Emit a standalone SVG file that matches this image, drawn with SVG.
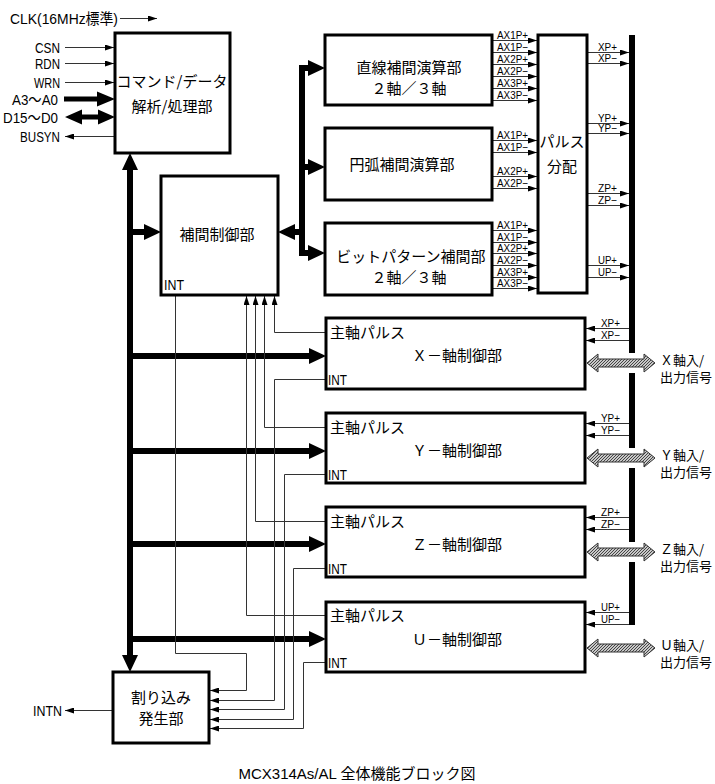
<svg xmlns="http://www.w3.org/2000/svg" width="715" height="784" viewBox="0 0 715 784">
<style>
.box{fill:#fff;stroke:#000;stroke-width:3}
.thin{fill:none;stroke:#333;stroke-width:1}
.thick{fill:#000}
.jp{font-family:"Noto Sans CJK JP","Noto Sans",sans-serif;font-size:15px;fill:#000}
.jps{font-family:"Noto Sans CJK JP","Noto Sans",sans-serif;font-size:13px;fill:#000}
.lat{font-family:"Liberation Sans","Noto Sans CJK JP",sans-serif;font-size:15px;fill:#000}
.sig{font-family:"Liberation Sans",sans-serif;font-size:11px;fill:#000}
.cap{font-family:"Liberation Sans","Noto Sans CJK JP",sans-serif;font-size:15px;fill:#000}
.bid{fill:url(#hatch);stroke:#333;stroke-width:1}
</style>
<defs>
<marker id="a" viewBox="0 0 9 6" refX="9" refY="3" markerWidth="9" markerHeight="6" markerUnits="userSpaceOnUse" orient="auto"><path d="M0,0L9,3L0,6z" fill="#000"/></marker>
<pattern id="hatch" width="3" height="3" patternUnits="userSpaceOnUse"><rect width="3" height="3" fill="#c8c8c8"/><path d="M0,3L3,0" stroke="#444" stroke-width="1"/></pattern>
</defs>

<g id="connectors">
<line class="thin" x1="120" y1="18.5" x2="157" y2="18.5" marker-end="url(#a)"/>
<line class="thin" x1="65" y1="47.5" x2="114" y2="47.5" marker-end="url(#a)"/>
<line class="thin" x1="65" y1="63.5" x2="114" y2="63.5" marker-end="url(#a)"/>
<line class="thin" x1="65" y1="82.5" x2="114" y2="82.5" marker-end="url(#a)"/>
<path class="thick" d="M64,96.5H97V91.5L115,99L97,106.5V101.5H64Z"/>
<path class="thick" d="M65,117L82,109.5V114.5H98V109.5L115,117L98,124.5V119.5H82V124.5Z"/>
<line class="thin" x1="114" y1="136.5" x2="65" y2="136.5" marker-end="url(#a)"/>
<path class="thick" d="M130,153L138,170H133V655H138L130,672L122,655H127V170H122Z"/>
<path class="thick" d="M130,229H144V224L161,232L144,240V235H130Z"/>
<path class="thick" d="M130,353H309V348L326,356L309,364V359H130Z"/>
<path class="thick" d="M130,448H309V443L326,451L309,459V454H130Z"/>
<path class="thick" d="M130,541H309V536L326,544L309,552V547H130Z"/>
<path class="thick" d="M130,636H309V631L326,639L309,647V642H130Z"/>
<path class="thick" d="M278,232L295,224V229H299V65H308V60L325,68L308,76V71H305V164H308V159L325,167L308,175V170H305V250H308V245L325,253L308,261V256H299V235H295V240Z"/>
<g>
<line class="thin" x1="492" y1="40.5" x2="537" y2="40.5" marker-end="url(#a)"/>
<line class="thin" x1="492" y1="52.5" x2="537" y2="52.5" marker-end="url(#a)"/>
<line class="thin" x1="492" y1="64.5" x2="537" y2="64.5" marker-end="url(#a)"/>
<line class="thin" x1="492" y1="76.5" x2="537" y2="76.5" marker-end="url(#a)"/>
<line class="thin" x1="492" y1="88.5" x2="537" y2="88.5" marker-end="url(#a)"/>
<line class="thin" x1="492" y1="100.5" x2="537" y2="100.5" marker-end="url(#a)"/>
<line class="thin" x1="492" y1="140.5" x2="537" y2="140.5" marker-end="url(#a)"/>
<line class="thin" x1="492" y1="152.5" x2="537" y2="152.5" marker-end="url(#a)"/>
<line class="thin" x1="492" y1="176.5" x2="537" y2="176.5" marker-end="url(#a)"/>
<line class="thin" x1="492" y1="188.5" x2="537" y2="188.5" marker-end="url(#a)"/>
<line class="thin" x1="492" y1="230.5" x2="537" y2="230.5" marker-end="url(#a)"/>
<line class="thin" x1="492" y1="242.5" x2="537" y2="242.5" marker-end="url(#a)"/>
<line class="thin" x1="492" y1="253.5" x2="537" y2="253.5" marker-end="url(#a)"/>
<line class="thin" x1="492" y1="265.5" x2="537" y2="265.5" marker-end="url(#a)"/>
<line class="thin" x1="492" y1="277.5" x2="537" y2="277.5" marker-end="url(#a)"/>
<line class="thin" x1="492" y1="288.5" x2="537" y2="288.5" marker-end="url(#a)"/>
</g>
<g>
<line class="thin" x1="587" y1="52.5" x2="629" y2="52.5" marker-end="url(#a)"/>
<line class="thin" x1="587" y1="63.5" x2="629" y2="63.5" marker-end="url(#a)"/>
<line class="thin" x1="587" y1="123.5" x2="629" y2="123.5" marker-end="url(#a)"/>
<line class="thin" x1="587" y1="133.5" x2="629" y2="133.5" marker-end="url(#a)"/>
<line class="thin" x1="587" y1="193.5" x2="629" y2="193.5" marker-end="url(#a)"/>
<line class="thin" x1="587" y1="205.5" x2="629" y2="205.5" marker-end="url(#a)"/>
<line class="thin" x1="587" y1="265.5" x2="629" y2="265.5" marker-end="url(#a)"/>
<line class="thin" x1="587" y1="277.5" x2="629" y2="277.5" marker-end="url(#a)"/>
</g>
<path class="thick" d="M629,35H635V353H629ZM629,373H635V448H629ZM629,468H635V542H629ZM629,562H635V625H629Z"/>
<g>
<line class="thin" x1="629" y1="328.5" x2="586" y2="328.5" marker-end="url(#a)"/>
<line class="thin" x1="629" y1="340.5" x2="586" y2="340.5" marker-end="url(#a)"/>
<line class="thin" x1="629" y1="423.5" x2="586" y2="423.5" marker-end="url(#a)"/>
<line class="thin" x1="629" y1="435.5" x2="586" y2="435.5" marker-end="url(#a)"/>
<line class="thin" x1="629" y1="517.5" x2="586" y2="517.5" marker-end="url(#a)"/>
<line class="thin" x1="629" y1="529.5" x2="586" y2="529.5" marker-end="url(#a)"/>
<line class="thin" x1="629" y1="612.5" x2="586" y2="612.5" marker-end="url(#a)"/>
<line class="thin" x1="629" y1="624.5" x2="586" y2="624.5" marker-end="url(#a)"/>
</g>
<path class="bid" d="M587,363L598,354V359H644V354L655,363L644,372V367H598V372Z"/>
<path class="bid" d="M587,458L598,449V454H644V449L655,458L644,467V462H598V467Z"/>
<path class="bid" d="M587,552L598,543V548H644V543L655,552L644,561V556H598V561Z"/>
<path class="bid" d="M587,648L598,639V644H644V639L655,648L644,657V652H598V657Z"/>
<polyline class="thin" points="326,332.5 274.5,332.5 274.5,296" marker-end="url(#a)"/>
<polyline class="thin" points="326,427.5 264.5,427.5 264.5,296" marker-end="url(#a)"/>
<polyline class="thin" points="326,521.5 255.5,521.5 255.5,296" marker-end="url(#a)"/>
<polyline class="thin" points="326,615.5 246.5,615.5 246.5,296" marker-end="url(#a)"/>
<polyline class="thin" points="175.5,296 175.5,653.5 246.5,653.5 246.5,690.5 210,690.5" marker-end="url(#a)"/>
<polyline class="thin" points="326,379.5 274.5,379.5 274.5,700.5 210,700.5" marker-end="url(#a)"/>
<polyline class="thin" points="326,474.5 284.5,474.5 284.5,709.5 210,709.5" marker-end="url(#a)"/>
<polyline class="thin" points="326,568.5 293.5,568.5 293.5,719.5 210,719.5" marker-end="url(#a)"/>
<polyline class="thin" points="326,662.5 303.5,662.5 303.5,728.5 210,728.5" marker-end="url(#a)"/>
<line class="thin" x1="112" y1="710.5" x2="65" y2="710.5" marker-end="url(#a)"/>
</g>

<g id="labels-io">
<text class="lat" x="10" y="24" textLength="108" lengthAdjust="spacingAndGlyphs">CLK(16MHz標準)</text>
<text class="lat" x="60" y="53" text-anchor="end" textLength="25" lengthAdjust="spacingAndGlyphs">CSN</text>
<text class="lat" x="60" y="69" text-anchor="end" textLength="25" lengthAdjust="spacingAndGlyphs">RDN</text>
<text class="lat" x="60" y="88" text-anchor="end" textLength="26" lengthAdjust="spacingAndGlyphs">WRN</text>
<text class="lat" x="58" y="105" text-anchor="end" textLength="46" lengthAdjust="spacingAndGlyphs">A3～A0</text>
<text class="lat" x="58" y="123" text-anchor="end" textLength="55" lengthAdjust="spacingAndGlyphs">D15～D0</text>
<text class="lat" x="60" y="142" text-anchor="end" textLength="40" lengthAdjust="spacingAndGlyphs">BUSYN</text>
<text class="lat" x="62" y="716" text-anchor="end" textLength="29" lengthAdjust="spacingAndGlyphs">INTN</text>
</g>

<g id="cmd">
<rect class="box" x="115" y="33" width="115" height="120"/>
<text class="jp" x="172" y="87" text-anchor="middle">コマンド/データ</text>
<text class="jp" x="172" y="112" text-anchor="middle">解析/処理部</text>
</g>

<g id="interp-ctrl">
<rect class="box" x="161" y="176" width="117" height="119"/>
<text class="jp" x="217" y="240" text-anchor="middle">補間制御部</text>
<text class="lat" x="164" y="290" textLength="20" lengthAdjust="spacingAndGlyphs">INT</text>
</g>

<g id="linear">
<rect class="box" x="325" y="35" width="167" height="70"/>
<text class="jp" x="409" y="73" text-anchor="middle">直線補間演算部</text>
<text class="jp" x="409" y="94" text-anchor="middle">２軸／３軸</text>
</g>

<g id="circular">
<rect class="box" x="325" y="128" width="167" height="72"/>
<text class="jp" x="402" y="170" text-anchor="middle">円弧補間演算部</text>
</g>

<g id="bitpattern">
<rect class="box" x="325" y="223" width="167" height="72"/>
<text class="jp" x="411" y="262" text-anchor="middle">ビットパターン補間部</text>
<text class="jp" x="409" y="283" text-anchor="middle">２軸／３軸</text>
</g>

<g id="sig-labels">
<text class="sig" x="497" y="39" textLength="31" lengthAdjust="spacingAndGlyphs">AX1P+</text>
<text class="sig" x="497" y="51" textLength="31" lengthAdjust="spacingAndGlyphs">AX1P−</text>
<text class="sig" x="497" y="63" textLength="31" lengthAdjust="spacingAndGlyphs">AX2P+</text>
<text class="sig" x="497" y="75" textLength="31" lengthAdjust="spacingAndGlyphs">AX2P−</text>
<text class="sig" x="497" y="87" textLength="31" lengthAdjust="spacingAndGlyphs">AX3P+</text>
<text class="sig" x="497" y="99" textLength="31" lengthAdjust="spacingAndGlyphs">AX3P−</text>
<text class="sig" x="497" y="139" textLength="31" lengthAdjust="spacingAndGlyphs">AX1P+</text>
<text class="sig" x="497" y="151" textLength="31" lengthAdjust="spacingAndGlyphs">AX1P−</text>
<text class="sig" x="497" y="175" textLength="31" lengthAdjust="spacingAndGlyphs">AX2P+</text>
<text class="sig" x="497" y="187" textLength="31" lengthAdjust="spacingAndGlyphs">AX2P−</text>
<text class="sig" x="497" y="229" textLength="31" lengthAdjust="spacingAndGlyphs">AX1P+</text>
<text class="sig" x="497" y="241" textLength="31" lengthAdjust="spacingAndGlyphs">AX1P−</text>
<text class="sig" x="497" y="252" textLength="31" lengthAdjust="spacingAndGlyphs">AX2P+</text>
<text class="sig" x="497" y="264" textLength="31" lengthAdjust="spacingAndGlyphs">AX2P−</text>
<text class="sig" x="497" y="276" textLength="31" lengthAdjust="spacingAndGlyphs">AX3P+</text>
<text class="sig" x="497" y="287" textLength="31" lengthAdjust="spacingAndGlyphs">AX3P−</text>
<text class="sig" x="598" y="51" textLength="19" lengthAdjust="spacingAndGlyphs">XP+</text>
<text class="sig" x="598" y="62" textLength="19" lengthAdjust="spacingAndGlyphs">XP−</text>
<text class="sig" x="598" y="122" textLength="19" lengthAdjust="spacingAndGlyphs">YP+</text>
<text class="sig" x="598" y="132" textLength="19" lengthAdjust="spacingAndGlyphs">YP−</text>
<text class="sig" x="598" y="192" textLength="19" lengthAdjust="spacingAndGlyphs">ZP+</text>
<text class="sig" x="598" y="204" textLength="19" lengthAdjust="spacingAndGlyphs">ZP−</text>
<text class="sig" x="598" y="264" textLength="19" lengthAdjust="spacingAndGlyphs">UP+</text>
<text class="sig" x="598" y="276" textLength="19" lengthAdjust="spacingAndGlyphs">UP−</text>
<text class="sig" x="601" y="327" textLength="19" lengthAdjust="spacingAndGlyphs">XP+</text>
<text class="sig" x="601" y="339" textLength="19" lengthAdjust="spacingAndGlyphs">XP−</text>
<text class="sig" x="601" y="422" textLength="19" lengthAdjust="spacingAndGlyphs">YP+</text>
<text class="sig" x="601" y="434" textLength="19" lengthAdjust="spacingAndGlyphs">YP−</text>
<text class="sig" x="601" y="516" textLength="19" lengthAdjust="spacingAndGlyphs">ZP+</text>
<text class="sig" x="601" y="528" textLength="19" lengthAdjust="spacingAndGlyphs">ZP−</text>
<text class="sig" x="601" y="611" textLength="19" lengthAdjust="spacingAndGlyphs">UP+</text>
<text class="sig" x="601" y="623" textLength="19" lengthAdjust="spacingAndGlyphs">UP−</text>
</g>

<g id="pulse-dist">
<rect class="box" x="538" y="35" width="49" height="258"/>
<text class="jp" x="562" y="147" text-anchor="middle">パルス</text>
<text class="jp" x="562" y="172" text-anchor="middle">分配</text>
</g>

<g id="x-axis">
<rect class="box" x="326" y="318" width="259" height="71"/>
<text class="jp" x="330" y="338">主軸パルス</text>
<text class="jp" x="412" y="361">Ｘ－軸制御部</text>
<text class="lat" x="328" y="385" textLength="19" lengthAdjust="spacingAndGlyphs">INT</text>
</g>
<g id="y-axis">
<rect class="box" x="326" y="413" width="259" height="70"/>
<text class="jp" x="330" y="433">主軸パルス</text>
<text class="jp" x="412" y="456">Ｙ－軸制御部</text>
<text class="lat" x="328" y="480" textLength="19" lengthAdjust="spacingAndGlyphs">INT</text>
</g>
<g id="z-axis">
<rect class="box" x="326" y="507" width="259" height="70"/>
<text class="jp" x="330" y="527">主軸パルス</text>
<text class="jp" x="412" y="550">Ｚ－軸制御部</text>
<text class="lat" x="328" y="574" textLength="19" lengthAdjust="spacingAndGlyphs">INT</text>
</g>
<g id="u-axis">
<rect class="box" x="326" y="602" width="259" height="70"/>
<text class="jp" x="330" y="621">主軸パルス</text>
<text class="jp" x="412" y="645">Ｕ－軸制御部</text>
<text class="lat" x="328" y="668" textLength="19" lengthAdjust="spacingAndGlyphs">INT</text>
</g>

<g id="io-labels">
<text class="jps" x="660" y="365">Ｘ軸入/</text>
<text class="jps" x="660" y="382">出力信号</text>
<text class="jps" x="660" y="460">Ｙ軸入/</text>
<text class="jps" x="660" y="477">出力信号</text>
<text class="jps" x="660" y="554">Ｚ軸入/</text>
<text class="jps" x="660" y="571">出力信号</text>
<text class="jps" x="660" y="650">Ｕ軸入/</text>
<text class="jps" x="660" y="667">出力信号</text>
</g>

<g id="interrupt">
<rect class="box" x="113" y="672" width="96" height="71"/>
<text class="jp" x="161" y="703" text-anchor="middle">割り込み</text>
<text class="jp" x="161" y="724" text-anchor="middle">発生部</text>
</g>

<text class="cap" x="357" y="779" text-anchor="middle">MCX314As/AL 全体機能ブロック図</text>
</svg>
